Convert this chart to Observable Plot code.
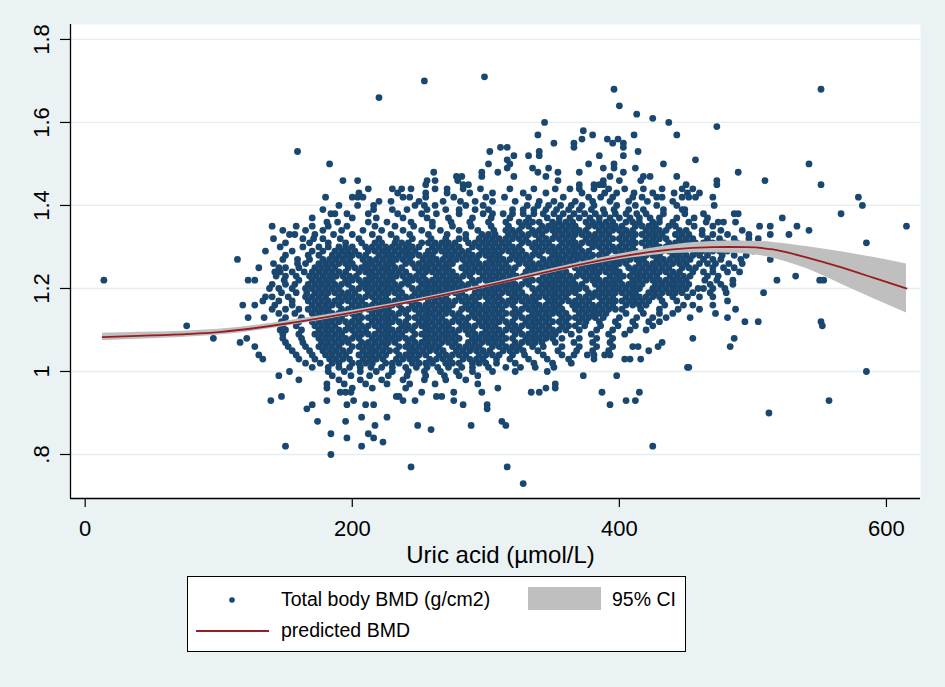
<!DOCTYPE html>
<html><head><meta charset="utf-8">
<script src="https://cdn.jsdelivr.net/npm/d3@7"></script>
<script src="https://cdn.jsdelivr.net/npm/@observablehq/plot@0.6"></script>
<style>
html,body{margin:0;padding:0;background:#eaf2f3;width:945px;height:687px;overflow:hidden;font-family:"Liberation Sans",Arial,Helvetica,sans-serif;}
#chart{position:absolute;left:0;top:0;}
#legend{position:absolute;left:187px;top:576px;width:497px;height:74px;border:1.5px solid #000;background:#fff;}
.lt{position:absolute;font-size:19.5px;color:#000;line-height:1;white-space:nowrap;transform:translateY(-50%);}
</style></head><body>
<div id="chart"></div>
<div id="legend"></div>
<script>
// ---- axis ticks ----
const xTicks = [0, 200, 400, 600];
const yTicks = [0.8, 1, 1.2, 1.4, 1.6, 1.8];
const yTickLabels = [".8", "1", "1.2", "1.4", "1.6", "1.8"];
const xTitle = "Uric acid (\u00b5mol/L)";
const legendLabels = ["Total body BMD (g/cm2)", "95% CI", "predicted BMD"];

// ---- fitted curve and 95% CI ----
const predX  = [13, 50, 100, 150, 200, 250, 300, 350, 400, 440, 470, 495, 515, 540, 565, 590, 615];
const predY  = [1.083, 1.087, 1.095, 1.115, 1.142, 1.172, 1.206, 1.243, 1.276, 1.294, 1.2995, 1.2995, 1.294, 1.275, 1.252, 1.226, 1.200];
const ciLow  = [1.074, 1.079, 1.088, 1.109, 1.137, 1.168, 1.202, 1.238, 1.269, 1.284, 1.286, 1.283, 1.273, 1.248, 1.212, 1.176, 1.141];
const ciHigh = [1.092, 1.095, 1.102, 1.121, 1.147, 1.176, 1.210, 1.248, 1.283, 1.305, 1.313, 1.314, 1.311, 1.301, 1.289, 1.275, 1.259];

// ---- scatter: rows of [BMD, [uric acid values]] ----
const rowsUpper = [
 [1.71,[299]],[1.70,[254]],[1.68,[396,551]],[1.66,[220]],[1.64,[400]],[1.62,[413]],[1.61,[425]],
 [1.60,[344,437]],[1.59,[473]],[1.58,[373]],[1.57,[339,380,411,443]],[1.56,[372,391,399]],
 [1.55,[351,366,395,403]],[1.54,[311,316,366,403]],[1.53,[159,303,340,414]],[1.52,[321,332,340,385,403]],
 [1.51,[316,457]],[1.50,[183,302,318,377,396,433,542]],[1.49,[316,335,347,388,396,412]],
 [1.48,[261,297,309,339,354,370,403,489]],[1.47,[278,282,297,321,345,393,418,423,443]],
 [1.46,[193,204,256,262,279,354,388,400,416,473,509]],[1.45,[255,283,287,370,381,385,388,450,473,551]],
 [1.44,[212,230,237,244,262,271,283,296,318,336,352,363,370,381,392,404,418,432,447,455]],
 [1.43,[205,234,255,271,288,305,328,345,372,389,398,411,425,441,451,460]],
 [1.42,[180,200,204,208,238,243,255,276,300,314,332,358,377,386,395,410,417,428,432,447,452,457,470,579]],
 [1.41,[220,229,250,268,281,292,305,322,340,351,367,380,393,407,421,440]],
 [1.40,[190,204,216,247,254,262,285,298,331,339,347,356,364,372,381,398,412,428,443,471,582]],
 [1.39,[178,216,230,241,256,270,280,292,302,320,328,336,345,353,362,370,379,388,396,407,418,433,447,449]],
 [1.38,[184,187,196,212,234,252,263,280,298,305,313,320,328,336,343,351,358,366,374,382,389,397,405,413,420,433,449,463,486,489,566]],
 [1.37,[170,200,218,238,256,272,290,304,318,332,346,355,363,370,378,385,393,400,408,415,423,430,443,456,466,522]]
];
const rowsCore = [
 [1.36,[181,189,212,226,244,260,274,288,302,315,325,330,335,340,350,355,360,365,375,380,385,390,395,405,410,415,425,430,440,452,465,474,478,487]],
 [1.35,[140,158,170,182,196,217,232,246,260,275,289,304,317,327,332,342,347,352,357,362,367,377,382,387,392,397,402,412,417,422,427,437,442,456,470,505,513,533,615]],
 [1.34,[148,165,178,192,208,222,238,252,266,280,294,306,315,320,325,335,340,345,350,355,360,365,370,375,385,390,395,400,405,410,420,425,430,435,445,450,462,476,492,542]],
 [1.33,[153,157,172,186,200,215,229,243,257,271,285,297,302,307,317,322,327,332,337,342,352,357,362,367,372,377,382,387,392,402,407,412,417,422,427,432,442,447,452,462,470,481,497,513,527]],
 [1.32,[141,163,171,178,191,205,220,233,245,259,270,280,285,295,300,305,310,315,320,325,330,340,345,350,355,360,365,375,380,385,390,395,400,405,410,420,425,430,435,445,450,455,466,475,486,497,504]],
 [1.31,[150,168,182,195,207,217,222,232,237,242,252,257,262,267,272,277,287,292,297,302,307,312,317,327,332,337,342,347,357,362,367,372,377,382,387,392,402,407,412,417,422,427,437,442,447,452,457,463,470,478,488,585]],
 [1.30,[146,163,175,182,190,195,200,210,215,220,225,230,235,240,245,250,260,265,270,275,280,290,295,300,305,310,315,320,325,335,340,345,350,355,360,365,370,380,385,390,395,400,405,410,420,425,430,435,440,445,450,455,466,472,483,490]],
 [1.29,[135,155,170,178,187,192,197,202,212,217,222,227,232,237,242,247,257,262,267,272,277,282,287,297,302,307,312,317,322,327,337,342,347,352,357,362,367,372,377,387,392,397,402,407,412,422,427,432,437,442,447,457,462,470,475,481,500]],
 [1.28,[150,167,175,185,190,195,200,205,210,220,225,230,235,240,245,250,255,260,270,275,280,285,290,295,300,305,310,320,325,330,335,340,350,355,360,365,370,375,380,385,390,400,405,410,415,420,425,430,440,445,450,455,460,466,477,486,495]],
 [1.27,[114,148,159,168,178,183,188,193,198,208,213,218,223,228,233,238,243,253,258,263,268,273,278,283,288,293,303,308,313,318,323,328,333,343,348,353,358,363,368,373,378,388,393,398,403,408,413,418,428,433,438,443,448,453,463,470,476,491,513]],
 [1.26,[141,159,165,175,180,185,190,195,200,210,215,220,225,230,240,245,250,255,260,265,270,275,285,290,295,300,305,310,315,325,330,335,340,345,350,355,360,365,375,380,385,390,395,400,405,415,420,425,430,435,440,445,450,460,466,472,482,492]],
 [1.25,[130,145,150,160,172,177,182,187,197,202,207,212,217,222,227,232,237,247,252,257,262,267,272,282,287,292,297,302,307,312,317,322,332,337,342,347,352,357,367,372,377,382,387,392,397,407,412,417,422,427,432,437,447,452,457,470,478,486]],
 [1.24,[142,146,155,164,170,175,180,185,190,195,205,210,215,220,225,230,235,240,250,255,260,265,270,275,285,290,295,300,305,310,315,320,330,335,340,345,350,355,360,370,375,380,385,390,395,400,410,415,420,425,430,435,440,445,455,463,470,481,490]],
 [1.23,[143,150,158,168,173,178,183,188,193,198,203,213,218,223,228,233,238,243,248,253,263,268,273,278,283,288,298,303,308,313,318,323,328,333,343,348,353,358,363,368,373,378,383,393,398,403,408,413,418,423,428,438,443,448,453,466,474,532]],
 [1.22,[14,122,127,149,160,170,175,180,185,195,200,205,210,215,220,225,230,240,245,250,255,260,265,270,275,280,290,295,300,305,310,315,320,330,335,340,345,350,355,360,365,375,380,385,390,395,400,410,415,420,425,430,435,440,445,450,464,473,485,518,550,553]],
 [1.21,[140,150,157,167,172,177,182,187,192,197,207,212,217,222,227,232,237,242,252,257,262,267,272,277,282,287,292,302,307,312,317,322,327,332,342,347,352,357,362,367,372,382,387,392,397,402,407,412,417,427,432,437,442,447,452,468,476,485]],
 [1.20,[138,145,155,165,170,175,180,185,190,200,205,210,215,220,225,230,235,245,250,255,260,265,270,275,280,285,295,300,305,310,315,320,325,335,340,345,350,355,360,365,370,375,385,390,395,400,405,410,415,425,430,435,440,445,450,459,463,470,479]],
 [1.19,[147,158,166,172,177,182,187,192,197,202,212,217,222,227,232,237,247,252,257,262,267,272,277,282,292,297,302,307,312,317,322,327,337,342,347,352,357,362,367,377,382,387,392,397,402,407,412,422,427,432,437,442,447,455,468,480,508,589]],
 [1.18,[135,140,152,165,170,175,180,190,195,200,205,210,215,220,225,235,240,245,250,255,260,265,270,280,285,290,295,300,305,310,320,325,330,335,340,345,350,355,360,370,375,380,385,390,395,405,410,415,420,425,430,440,451,460,470]],
 [1.17,[133,145,155,167,172,177,182,187,192,197,202,207,217,222,227,232,237,242,247,257,262,267,272,277,282,287,292,302,307,312,317,322,327,332,337,347,352,357,362,367,372,377,387,392,397,402,407,412,417,422,432,443,481]],
 [1.16,[118,127,142,155,170,175,180,185,190,200,205,210,215,220,225,230,235,245,250,255,260,265,270,275,285,290,295,300,305,310,315,320,330,335,340,345,350,355,365,370,375,380,385,390,395,405,410,415,420,434,448,455,470]],
 [1.15,[140,150,160,167,172,177,182,192,197,202,207,212,217,222,227,237,242,247,252,257,262,267,272,282,287,292,297,302,307,312,322,327,332,337,342,347,352,357,367,372,377,382,387,392,397,402,416,430,444,460,487]],
 [1.14,[145,157,170,175,180,185,190,195,200,205,215,220,225,230,235,240,250,255,260,265,270,275,280,290,295,300,305,310,315,320,325,335,340,345,350,355,360,370,375,380,385,390,405,418,430,440,472]],
 [1.13,[122,134,150,162,172,177,182,187,192,202,207,212,217,222,227,232,242,247,252,257,262,267,277,282,287,292,297,302,307,312,322,327,332,337,342,347,357,362,367,372,377,382,388,400,413,425,435,453,481]],
 [1.12,[147,160,170,175,180,185,190,195,200,205,215,220,225,230,235,240,250,255,260,265,270,275,280,285,295,300,305,310,315,320,330,335,340,345,350,355,360,370,375,385,397,410,422,430,494,504,551]],
 [1.11,[76,148,158,172,177,182,187,197,202,207,212,217,222,227,237,242,247,252,257,262,267,272,282,287,292,297,302,307,317,322,327,332,337,342,347,357,362,367,374,386,399,412,425,552]],
 [1.10,[146,150,162,175,180,185,190,195,200,205,210,220,225,230,235,240,245,255,260,265,270,275,280,285,290,300,305,310,315,320,325,335,340,345,350,355,360,370,383,395,408,420]],
 [1.09,[148,160,172,177,182,187,192,202,207,212,217,222,227,232,237,247,252,257,262,267,272,277,287,292,297,302,307,312,322,327,332,337,342,347,352,364,379,392,404]],
 [1.08,[96,121,148,162,175,180,185,190,195,200,205,215,220,225,230,235,240,245,255,260,265,270,275,280,290,295,300,305,310,315,320,330,335,340,345,350,357,370,383,395,455,486]],
 [1.07,[116,150,163,177,182,187,192,197,207,212,217,222,227,232,242,247,252,257,262,267,272,277,287,292,297,302,307,312,322,327,332,337,342,352,366,380,393,432]],
 [1.06,[127,152,165,175,180,185,190,200,205,210,215,220,225,235,240,245,250,255,260,265,275,280,285,290,295,305,310,315,320,325,335,343,357,370,383,395,410,414,429,483]],
 [1.05,[155,168,178,183,188,193,198,208,213,218,223,228,233,243,248,253,258,263,268,278,283,288,293,298,303,313,318,323,328,339,354,368,380,392,422]],
 [1.04,[130,158,170,180,185,190,195,205,210,215,220,225,235,240,245,250,255,265,270,275,280,285,295,300,305,310,320,329,343,357,366,376,381,389,393]],
 [1.03,[133,160,172,183,188,193,198,208,213,218,223,233,238,243,248,258,263,268,273,283,288,293,298,308,318,332,346,362,381,404,408,416]],
 [1.02,[165,176,185,190,200,205,210,215,225,230,235,245,250,255,260,270,275,280,290,295,300,308,322,336,350,364]]
];
const rowsLower = [
 [1.01,[170,182,190,198,206,214,222,230,240,248,256,264,272,282,290,302,315,326,337,351,451,452]],
 [1.00,[153,182,194,206,218,230,242,254,266,278,290,305,322,346,585]],
 [0.99,[145,185,199,213,227,241,255,269,280,294,373,398]],
 [0.98,[160,190,206,222,238,254,270,285]],
 [0.97,[181,194,210,226,243,262,294,352]],
 [0.96,[181,200,215,240,309,345,352]],
 [0.95,[191,195,199,252,276,297,334,340,387,415]],
 [0.94,[147,233,235,263,267]],
 [0.93,[139,181,201,238,247,276,405,412,557]],
 [0.92,[170,196,210,216,283,301,393]],
 [0.91,[166,301]],[0.90,[512]],[0.89,[207,226]],[0.88,[174,195,312]],[0.87,[217,249,289,315]],
 [0.86,[259]],[0.85,[184,212]],[0.84,[196,216]],[0.83,[223]],[0.82,[150,207,425]],
 [0.80,[184]],[0.77,[244,316]],[0.73,[328]]
];

const points = [...rowsUpper, ...rowsCore, ...rowsLower].flatMap(([y, xs]) => xs.map(x => ({x, y})));
const fit = predX.map((x, i) => ({x, y: predY[i], lo: ciLow[i], hi: ciHigh[i]}));
const yLabelData = yTicks.map((v, i) => ({v, label: yTickLabels[i]}));

const NAVY = "#1a476f", MAROON = "#9a1b20", GREY = "#bfbfbf";
const font = '"Liberation Sans", Arial, Helvetica, sans-serif';

const chart = Plot.plot({
  width: 945, height: 570,
  marginLeft: 70, marginRight: 25, marginTop: 24, marginBottom: 72,
  x: {domain: [-11, 625.5]},
  y: {domain: [0.694, 1.836]},
  style: {background: "transparent", fontFamily: font, color: "#000", overflow: "visible"},
  marks: [
    Plot.frame({fill: "#ffffff", stroke: "none"}),
    Plot.ruleY(yTicks, {stroke: "#e4edf0", strokeWidth: 1.3}),
    Plot.dot(points, {x: "x", y: "y", r: 3.4, fill: NAVY, stroke: "none"}),
    Plot.areaY(fit, {x: "x", y1: "lo", y2: "hi", fill: GREY, curve: "natural"}),
    Plot.line(fit, {x: "x", y: "y", stroke: MAROON, strokeWidth: 1.8, curve: "natural"}),
    Plot.axisX(xTicks, {tickSize: 9, tickPadding: 13, fontSize: 22, label: null, stroke: "#000", strokeWidth: 1.2}),
    Plot.axisY(yTicks, {tickSize: 10, tickFormat: () => "", label: null, stroke: "#000", strokeWidth: 1.2}),
    Plot.text(yLabelData, {y: "v", text: "label", frameAnchor: "left", dx: -29, rotate: -90,
      textAnchor: "middle", lineAnchor: "middle", fontSize: 22, fill: "#000"}),
    Plot.ruleX([-11], {stroke: "#000", strokeWidth: 1.3}),
    Plot.ruleY([0.694], {stroke: "#000", strokeWidth: 1.3}),
    Plot.text([xTitle], {frameAnchor: "bottom", dx: 5, dy: 57, fontSize: 24, lineAnchor: "middle", fill: "#000"})
  ]
});
document.getElementById("chart").appendChild(chart);

// ---- legend ----
const lg = document.getElementById("legend");
lg.innerHTML = `
  <svg width="497" height="74" style="position:absolute;left:0;top:0">
    <circle cx="44" cy="23" r="2.8" fill="${NAVY}"/>
    <rect x="340" y="10" width="73" height="23" fill="${GREY}"/>
    <line x1="8" x2="81" y1="54" y2="54" stroke="${MAROON}" stroke-width="1.8"/>
  </svg>
  <div class="lt" style="left:93px;top:23px">${legendLabels[0]}</div>
  <div class="lt" style="left:424px;top:23px">${legendLabels[1]}</div>
  <div class="lt" style="left:93px;top:54px">${legendLabels[2]}</div>`;
</script>
</body></html>
